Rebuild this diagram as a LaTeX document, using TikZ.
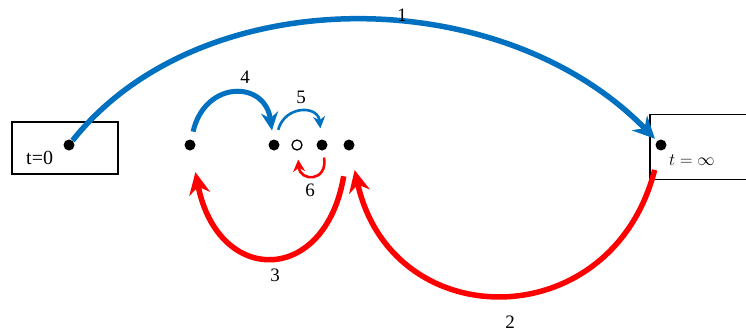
\documentclass[tikz,border=0pt]{standalone}
\usepackage{fontspec}
\setmainfont{Liberation Serif}
\usetikzlibrary{arrows.meta}
\definecolor{arcblue}{RGB}{0,112,192}
\definecolor{arcred}{RGB}{255,0,0}
\begin{document}
\begin{tikzpicture}[x=1pt,y=-1pt,
  dot/.style={circle,fill=black,inner sep=0pt,minimum size=11pt},
  odot/.style={circle,draw=black,fill=white,line width=1.3pt,inner sep=0pt,minimum size=10pt},
  timebox/.style={draw=black,line width=1.6pt,inner sep=0pt},
  lbl/.style={font=\fontsize{19}{21}\selectfont,inner sep=1pt},
  bigb/.style={draw=arcblue,line width=5.5pt,-{Stealth[length=22pt,width=21pt]}},
  bigr/.style={draw=arcred,line width=5.5pt,-{Stealth[length=22pt,width=21pt]}},
  midb/.style={draw=arcblue,line width=5pt,-{Stealth[length=18pt,width=17pt]}},
  smallb/.style={draw=arcblue,line width=2.6pt,-{Stealth[length=12pt,width=12pt]}},
  smallr/.style={draw=arcred,line width=2.6pt,-{Stealth[length=12pt,width=12pt]}}]
\useasboundingbox (0,0) rectangle (746,335);
\clip (0,0) rectangle (746,335);
% boxes
\node[timebox,minimum width=106pt,minimum height=52pt] (b0) at (65,148) {};
\node[timebox,minimum width=110pt,minimum height=65pt] (binf) at (705,147) {};
% dots
\node[dot] (d0) at (69,145) {};
\node[dot] (dinf) at (661,145) {};
\node[dot] (d1) at (190,145) {};
\node[dot] (d2) at (274,145) {};
\node[odot] (d3) at (297,145) {};
\node[dot] (d4) at (322,145) {};
\node[dot] (d5) at (349,145) {};
% box texts
\node[lbl,anchor=west,font=\fontsize{20}{22}\selectfont] (t0) at (25,158) {t=0};
\node[lbl,anchor=west] (tinf) at (668,160) {$t=\infty$};
% arcs
\draw[bigb,shorten >=3pt] (d0) .. controls (200,-20) and (500,-20) .. (dinf);
\draw[midb,shorten <=8pt,shorten >=9pt] (d1) .. controls (205,80) and (265,80) .. (d2);
\draw[smallb,shorten <=10pt,shorten >=11pt] (d2) .. controls (285,105) and (318,105) .. (d4);
\draw[smallr,shorten <=7pt,shorten >=9pt] (d4) .. controls (328,182) and (300,182) .. (d3);
\draw[bigr,shorten <=26pt,shorten >=22pt] (d5) .. controls (325,286) and (218,286) .. (d1);
\draw[bigr,shorten <=20pt,shorten >=20pt] (dinf) .. controls (612,337) and (392,337) .. (d5);
% labels
\node[lbl] (l1) at (402,15) {1};
\node[lbl] (l2) at (510,322) {2};
\node[lbl] (l3) at (275,275) {3};
\node[lbl] (l4) at (245,77) {4};
\node[lbl] (l5) at (301,97) {5};
\node[lbl] (l6) at (310,190) {6};
\end{tikzpicture}
\end{document}
